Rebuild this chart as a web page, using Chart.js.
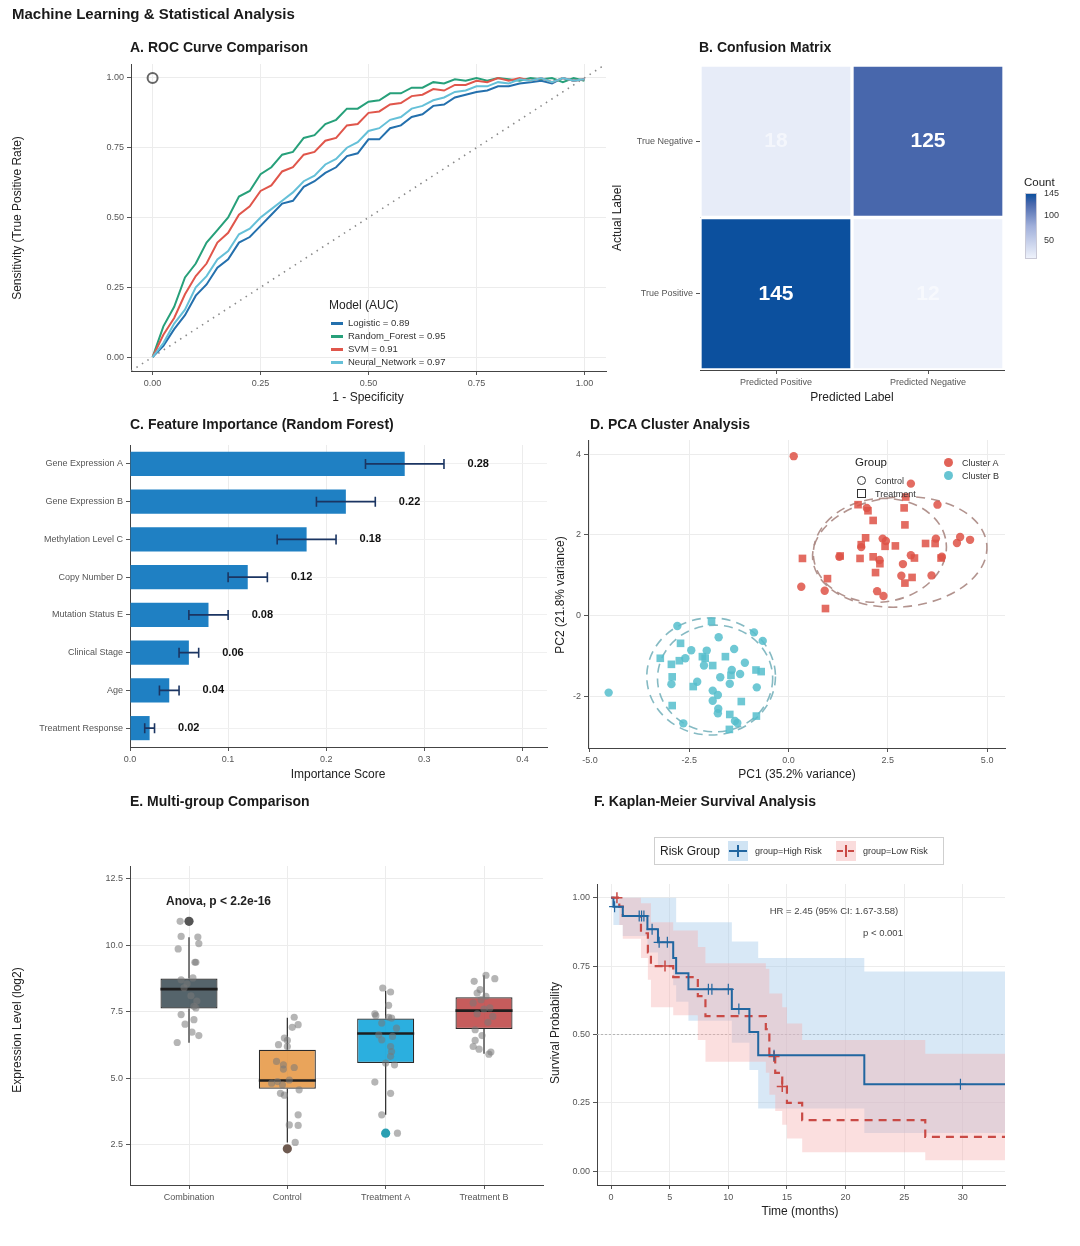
<!DOCTYPE html>
<html>
<head>
<meta charset="utf-8">
<script src="https://cdn.jsdelivr.net/npm/chart.js@4.4.1/dist/chart.umd.min.js"></script>
<style>
html, body { margin: 0; padding: 0; background: #fff; }
#page { position: relative; width: 1080px; height: 1246px; overflow: hidden; font-family: 'Liberation Sans', Arial, sans-serif; color: #222; }
#page canvas { position: absolute; left: 0; top: 0; }
.t { position: absolute; white-space: nowrap; line-height: 1; }
.ttl { font-weight: bold; font-size: 14px; transform: translateY(-50%); color: #1a1a1a; }
.ax { font-size: 12px; transform: translate(-50%, -50%); }
.rot { transform: translate(-50%, -50%) rotate(-90deg); }
.lg { font-size: 9px; color: #333; transform: translateY(-50%); }
.blk { position: absolute; }
</style>
</head>
<body>
<div id="page">
<canvas id="cA" width="1080" height="1246"></canvas>
<canvas id="cB" width="1080" height="1246"></canvas>
<canvas id="cC" width="1080" height="1246"></canvas>
<canvas id="cD" width="1080" height="1246"></canvas>
<canvas id="cE" width="1080" height="1246"></canvas>
<canvas id="cF" width="1080" height="1246"></canvas>

<div class="t ttl" style="left:12px;top:13px;font-size:15px">Machine Learning &amp; Statistical Analysis</div>
<div class="t ttl" style="left:130px;top:47px">A. ROC Curve Comparison</div>
<div class="t ttl" style="left:699px;top:47px">B. Confusion Matrix</div>
<div class="t ttl" style="left:130px;top:424px">C. Feature Importance (Random Forest)</div>
<div class="t ttl" style="left:590px;top:424px">D. PCA Cluster Analysis</div>
<div class="t ttl" style="left:130px;top:801px">E. Multi-group Comparison</div>
<div class="t ttl" style="left:594px;top:801px">F. Kaplan-Meier Survival Analysis</div>

<div class="t ax rot" style="left:17px;top:218px">Sensitivity (True Positive Rate)</div>
<div class="t ax" style="left:368px;top:397px">1 - Specificity</div>
<div class="t ax rot" style="left:617px;top:218px">Actual Label</div>
<div class="t ax" style="left:852px;top:397px">Predicted Label</div>
<div class="t ax" style="left:338px;top:774px">Importance Score</div>
<div class="t ax rot" style="left:560px;top:595px">PC2 (21.8% variance)</div>
<div class="t ax" style="left:797px;top:774px">PC1 (35.2% variance)</div>
<div class="t ax rot" style="left:17px;top:1030px">Expression Level (log2)</div>
<div class="t ax rot" style="left:555px;top:1033px">Survival Probability</div>
<div class="t ax" style="left:800px;top:1211px">Time (months)</div>

<!-- ROC legend -->
<div id="rocLegend"></div>

<!-- confusion colour bar -->
<div class="t" style="left:1024px;top:177px;font-size:11.5px">Count</div>
<div id="cbar" class="blk" style="left:1025px;top:193px;width:12px;height:66px;border:1px solid #c9c9d6;box-sizing:border-box"></div>
<div id="cbarTicks"></div>

<!-- PCA legend -->
<div class="t" style="left:855px;top:457px;font-size:11.5px">Group</div>
<div class="blk" style="left:857px;top:476px;width:7px;height:7px;border:1px solid #333;border-radius:50%"></div>
<div class="t lg" style="left:875px;top:481px">Control</div>
<div class="blk" style="left:857px;top:489px;width:7px;height:7px;border:1px solid #333"></div>
<div class="t lg" style="left:875px;top:494px">Treatment</div>
<div class="blk" style="left:944px;top:458px;width:9px;height:9px;border-radius:50%;background:rgba(222,82,70,0.9)"></div>
<div class="t lg" style="left:962px;top:463px">Cluster A</div>
<div class="blk" style="left:944px;top:471px;width:9px;height:9px;border-radius:50%;background:rgba(86,190,205,0.9)"></div>
<div class="t lg" style="left:962px;top:476px">Cluster B</div>

<!-- Boxplot annotation -->
<div class="t" style="left:166px;top:895px;font-size:12px;font-weight:bold">Anova, p &lt; 2.2e-16</div>

<!-- KM annotations and legend -->
<div class="t" style="left:834px;top:911px;font-size:9.5px;color:#444;transform:translate(-50%,-50%)">HR = 2.45 (95% CI: 1.67-3.58)</div>
<div class="t" style="left:883px;top:933px;font-size:9.5px;color:#444;transform:translate(-50%,-50%)">p &lt; 0.001</div>
<div class="blk" style="left:654px;top:837px;width:290px;height:28px;border:1px solid #cfcfcf;box-sizing:border-box"></div>
<div class="t" style="left:660px;top:851px;font-size:12px;transform:translateY(-50%)">Risk Group</div>
<div class="blk" style="left:728px;top:841px;width:20px;height:20px;background:rgba(170,205,235,0.55)"></div>
<div class="blk" style="left:729px;top:850px;width:18px;height:2px;background:#2166a0"></div>
<div class="blk" style="left:737px;top:845px;width:1.5px;height:12px;background:#2166a0"></div>
<div class="t lg" style="left:755px;top:851px">group=High Risk</div>
<div class="blk" style="left:836px;top:841px;width:20px;height:20px;background:rgba(245,185,185,0.5)"></div>
<div class="blk" style="left:837px;top:850px;width:6px;height:2px;background:#c94a45"></div>
<div class="blk" style="left:848px;top:850px;width:6px;height:2px;background:#c94a45"></div>
<div class="blk" style="left:845px;top:845px;width:1.5px;height:12px;background:#c94a45"></div>
<div class="t lg" style="left:863px;top:851px">group=Low Risk</div>
</div>

<script>
const W = 1080, H = 1246;
const F = "'Liberation Sans', Arial, sans-serif";
Chart.defaults.font.family = F;
Chart.defaults.color = '#555';

// ---------- A. ROC data ----------
const fpr = [0, 0.025, 0.05, 0.075, 0.1, 0.125, 0.15, 0.175, 0.2, 0.225, 0.25, 0.275, 0.3, 0.325, 0.35, 0.375, 0.4, 0.425, 0.45, 0.475,
  0.5, 0.525, 0.55, 0.575, 0.6, 0.625, 0.65, 0.675, 0.7, 0.725, 0.75, 0.775, 0.8, 0.825, 0.85, 0.875, 0.9, 0.925, 0.95, 0.975, 1];
const tprLogistic = [0, .04, .10, .15, .22, .26, .32, .35, .41, .43, .47, .51, .55, .56, .61, .63, .66, .68, .72, .73,
  .78, .78, .82, .83, .86, .87, .90, .905, .93, .94, .95, .955, .97, .97, .98, .985, .99, .98, 1.0, .99, .995];
const tprRandomForest = [0, .11, .18, .285, .335, .41, .455, .50, .575, .595, .655, .68, .725, .735, .785, .795, .835, .85, .89, .89,
  .915, .92, .945, .945, .965, .965, .985, .98, .995, .99, 1.0, .99, 1.0, .995, .99, 1.0, .995, 1.0, .985, 1.0, .99];
const tprSVM = [0, .08, .14, .225, .29, .335, .41, .445, .51, .54, .595, .615, .665, .68, .725, .735, .775, .785, .83, .835,
  .875, .88, .905, .91, .935, .94, .96, .955, .975, .975, .99, .985, 1.0, .99, 1.0, .99, 1.0, .985, 1.0, .99, .995];
const tprNeuralNet = [0, .05, .12, .17, .25, .29, .35, .38, .44, .46, .50, .53, .56, .59, .63, .65, .69, .71, .75, .77,
  .81, .82, .85, .86, .89, .90, .92, .93, .95, .955, .97, .97, .985, .98, .995, .99, 1.0, .985, 1.0, .99, .995];
const modelNames = ['Logistic', 'Random_Forest', 'SVM', 'Neural_Network'];
const modelAUC = [0.89, 0.95, 0.91, 0.97];
const modelTpr = [tprLogistic, tprRandomForest, tprSVM, tprNeuralNet];
const modelColors = ['#2470ad', '#27a07a', '#e0564b', '#65c0d8'];

// ---------- B. Confusion matrix ----------
const cmRows = ['True Positive', 'True Negative'];
const cmCols = ['Predicted Positive', 'Predicted Negative'];
const cmCounts = [[145, 12], [18, 125]];
const cmTicks = [145, 100, 50];

// ---------- C. Feature importance ----------
const features = ['Gene Expression A', 'Gene Expression B', 'Methylation Level C', 'Copy Number D',
  'Mutation Status E', 'Clinical Stage', 'Age', 'Treatment Response'];
const importance = [0.28, 0.22, 0.18, 0.12, 0.08, 0.06, 0.04, 0.02];
const importanceLo = [0.24, 0.19, 0.15, 0.10, 0.06, 0.05, 0.03, 0.015];
const importanceHi = [0.32, 0.25, 0.21, 0.14, 0.10, 0.07, 0.05, 0.025];

// ---------- D. PCA ----------
const pcaAControl = [[0.13, 3.95], [3.08, 3.27], [3.75, 2.75], [1.97, 2.67], [1.83, 1.70], [2.37, 1.91], [2.45, 1.85], [3.71, 1.91],
  [4.32, 1.95], [4.24, 1.80], [4.57, 1.88], [1.28, 1.46], [2.29, 1.38], [3.08, 1.50], [3.86, 1.46], [2.88, 1.28], [2.84, 0.99],
  [3.60, 1.00], [0.32, 0.72], [0.91, 0.62], [2.23, 0.61], [2.39, 0.49]];
const pcaATreatment = [[2.95, 2.94], [1.75, 2.75], [2.00, 2.60], [2.91, 2.67], [2.13, 2.36], [2.93, 2.25], [1.94, 1.93], [1.83, 1.76],
  [2.43, 1.72], [2.69, 1.73], [3.45, 1.79], [3.69, 1.79], [0.35, 1.42], [1.30, 1.48], [1.80, 1.42], [2.13, 1.46], [2.30, 1.29],
  [3.17, 1.43], [3.84, 1.43], [2.19, 1.07], [3.11, 0.95], [2.93, 0.81], [0.98, 0.92], [0.93, 0.18]];
const pcaBControl = [[-4.53, -1.90], [-2.80, -0.25], [-1.76, -0.53], [-0.87, -0.41], [-0.65, -0.62], [-2.45, -0.85], [-2.06, -0.86],
  [-1.37, -0.82], [-2.60, -1.05], [-2.13, -1.23], [-1.10, -1.16], [-1.43, -1.34], [-1.22, -1.44], [-1.72, -1.52], [-2.95, -1.69],
  [-2.30, -1.63], [-1.48, -1.68], [-0.80, -1.77], [-1.91, -1.85], [-1.78, -1.96], [-1.91, -2.10], [-1.77, -2.30], [-1.78, -2.41],
  [-1.29, -2.65], [-2.65, -2.66], [-1.35, -2.60]];
const pcaBTreatment = [[-1.94, -0.14], [-2.72, -0.68], [-3.23, -1.05], [-2.75, -1.11], [-2.17, -1.01], [-1.59, -1.01], [-2.95, -1.20],
  [-1.91, -1.23], [-1.45, -1.47], [-0.82, -1.34], [-0.69, -1.38], [-2.93, -1.51], [-2.40, -1.75], [-1.19, -2.12], [-2.93, -2.22],
  [-1.48, -2.44], [-0.81, -2.48], [-1.49, -2.81], [-2.10, -1.05]];
const ellipseCx = [2.80, 2.30, -1.95, -1.85];
const ellipseCy = [1.58, 1.62, -1.50, -1.55];
const ellipseRx = [2.20, 1.68, 1.62, 1.45];
const ellipseRy = [1.36, 1.28, 1.45, 1.32];
const ellipseTilt = [-0.08, -0.12, 0, 0];
const ellipseColor = ['rgba(170,135,130,0.9)', 'rgba(170,135,130,0.9)', 'rgba(120,178,188,0.9)', 'rgba(120,178,188,0.9)'];

// ---------- E. Boxplot ----------
const groups = ['Combination', 'Control', 'Treatment A', 'Treatment B'];
const boxQ1 = [7.62, 4.60, 5.57, 6.85];
const boxMedian = [8.35, 4.91, 6.68, 7.54];
const boxQ3 = [8.75, 6.07, 7.24, 8.04];
const whiskerLo = [6.33, 2.58, 3.62, 5.92];
const whiskerHi = [10.30, 7.27, 8.29, 8.87];
const boxFill = ['rgba(62,79,86,0.88)', 'rgba(229,148,62,0.85)', 'rgba(20,166,220,0.9)', 'rgba(190,70,70,0.88)'];
const outlierGroup = [0, 1, 2];
const outlierY = [10.9, 2.34, 2.93];
const outlierColor = ['#555555', '#6e5a50', '#2a9fb2'];
const combDx = [-0.09, -0.08, 0.09, 0.10, -0.11, 0.06, 0.07, 0.04, -0.08, 0.07, -0.08, 0.05, -0.04, 0.03, 0.10, -0.12, 0.02, -0.05, 0.08, -0.02, 0.05];
const combY = [10.9, 10.33, 10.31, 10.06, 9.86, 9.36, 9.36, 8.77, 8.70, 7.64, 7.39, 7.20, 7.03, 6.73, 6.60, 6.34, 8.10, 8.40, 7.90, 8.55, 7.70];
const ctrlDx = [0.07, 0.11, 0.05, -0.03, 0.00, -0.09, 0.00, -0.11, -0.04, 0.07, -0.04, -0.10, 0.02, -0.16, -0.05, 0.12, -0.07, -0.03, 0.11, 0.02, 0.11, 0.08];
const ctrlY = [7.29, 7.01, 6.91, 6.51, 6.42, 6.26, 6.19, 5.63, 5.50, 5.40, 5.34, 4.87, 4.93, 4.81, 4.75, 4.56, 4.43, 4.36, 3.62, 3.24, 3.22, 2.58];
const trtADx = [-0.03, 0.05, 0.03, -0.11, -0.10, 0.03, 0.06, -0.04, 0.11, -0.07, 0.07, -0.04, 0.05, 0.06, 0.05, 0.00, 0.09, -0.11, 0.05, -0.04, 0.12];
const trtAY = [8.39, 8.24, 7.74, 7.42, 7.35, 7.29, 7.26, 7.07, 6.88, 6.63, 6.57, 6.44, 6.19, 6.00, 5.82, 5.57, 5.50, 4.85, 4.43, 3.62, 2.93];
const trtBDx = [0.02, 0.11, -0.10, -0.04, -0.07, 0.02, -0.11, 0.06, -0.07, 0.09, -0.09, -0.02, -0.09, -0.11, -0.05, 0.07, 0.05, 0.00, 0.04, -0.03];
const trtBY = [8.87, 8.74, 8.64, 8.33, 8.20, 8.08, 7.83, 7.64, 7.42, 7.32, 6.82, 6.60, 6.42, 6.19, 6.09, 5.98, 5.90, 7.60, 7.10, 7.95];

// ---------- F. Kaplan-Meier ----------
const highT = [0, 0.2, 1.0, 3.1, 4.0, 5.3, 5.55, 6.6, 10.3, 11.8, 12.55, 21.6, 33.6];
const highS = [1, 0.967, 0.933, 0.885, 0.837, 0.78, 0.724, 0.665, 0.593, 0.509, 0.424, 0.318, 0.318];
const highCensT = [0.3, 2.4, 2.6, 2.8, 3.5, 4.1, 4.8, 8.3, 8.6, 10.0, 10.9, 13.9, 29.8];
const highCensS = [0.967, 0.933, 0.933, 0.933, 0.885, 0.837, 0.837, 0.665, 0.665, 0.665, 0.593, 0.424, 0.318];
const highUpT = [0, 5.55, 10.3, 12.55, 21.6, 33.6];
const highUpS = [1, 0.91, 0.84, 0.78, 0.73, 0.73];
const highLoT = [0, 0.2, 1.0, 3.1, 4.0, 5.3, 5.55, 6.6, 10.3, 11.8, 12.55, 21.6, 33.6];
const highLoS = [1, 0.90, 0.86, 0.80, 0.75, 0.68, 0.62, 0.55, 0.47, 0.37, 0.23, 0.14, 0.14];
const lowT = [0, 0.7, 1.0, 2.55, 3.14, 3.4, 5.3, 7.4, 8.05, 13.2, 13.5, 14.0, 14.6, 15.0, 16.3, 26.8, 33.6];
const lowS = [1, 0.967, 0.933, 0.87, 0.80, 0.75, 0.71, 0.64, 0.567, 0.52, 0.42, 0.36, 0.31, 0.25, 0.187, 0.126, 0.126];
const lowCensT = [0.5, 4.6, 13.9, 14.6];
const lowCensS = [1.0, 0.75, 0.42, 0.31];
const lowUpT = [0, 2.55, 3.4, 5.3, 7.4, 8.05, 13.2, 13.5, 14.6, 15.0, 16.3, 26.8, 33.6];
const lowUpS = [1, 0.98, 0.91, 0.88, 0.82, 0.76, 0.74, 0.65, 0.60, 0.54, 0.48, 0.43, 0.43];
const lowLoT = [0, 0.7, 1.0, 2.55, 3.14, 3.4, 5.3, 7.4, 8.05, 13.2, 13.5, 14.0, 14.6, 15.0, 16.3, 26.8, 33.6];
const lowLoS = [1, 0.90, 0.85, 0.78, 0.70, 0.60, 0.57, 0.48, 0.40, 0.36, 0.28, 0.22, 0.17, 0.12, 0.07, 0.04, 0.04];

// ---------- helpers ----------
function pad(l, t, r, b, yW, xH) {
  return { left: l - yW, top: t, right: W - r, bottom: H - b - xH };
}
function common(padding) {
  return {
    responsive: false, animation: false,
    layout: { padding },
    plugins: { legend: { display: false }, tooltip: { enabled: false } }
  };
}
function axis(pos, min, max, ticks, fmt, size) {
  return {
    type: 'linear', position: pos, min, max, offset: false,
    afterBuildTicks: s => { s.ticks = ticks.map(v => ({ value: v })); },
    afterFit: s => { if (pos === 'left') s.width = size; else s.height = size; },
    ticks: { callback: v => fmt(v), font: { size: 9 }, color: '#555', padding: 3, autoSkip: false, maxRotation: 0 },
    grid: { color: '#ececec', lineWidth: 1, tickColor: '#555', tickLength: 4, offset: false },
    border: { color: '#444', width: 1 }
  };
}
const xy = (xs, ys) => xs.map((x, i) => ({ x, y: ys[i] }));
const pairs = arr => arr.map(p => ({ x: p[0], y: p[1] }));

// ---------- A ----------
new Chart(document.getElementById('cA'), {
  type: 'line',
  data: {
    datasets: [
      { data: [{ x: -0.05, y: -0.05 }, { x: 1.05, y: 1.05 }], borderColor: '#8a8a8a', borderWidth: 1.6, borderDash: [1.5, 5], pointRadius: 0, order: 9 },
      ...modelNames.map((m, i) => ({
        data: xy(fpr, modelTpr[i]), borderColor: modelColors[i], borderWidth: 2, pointRadius: 0, tension: 0, order: 4 - i
      })),
      { data: [{ x: 0, y: 1 }], showLine: false, pointRadius: 5, pointBorderWidth: 2, pointBorderColor: '#666', pointBackgroundColor: 'rgba(0,0,0,0)', order: 0 }
    ]
  },
  options: Object.assign(common(pad(131, 64, 606, 371, 51, 25)), {
    scales: {
      x: axis('bottom', -0.05, 1.05, [0, 0.25, 0.5, 0.75, 1], v => v.toFixed(2), 25),
      y: axis('left', -0.05, 1.05, [0, 0.25, 0.5, 0.75, 1], v => v.toFixed(2), 51)
    }
  })
});
(function () {
  const box = document.getElementById('rocLegend');
  let html = '<div class="t" style="left:329px;top:299px;font-size:12px">Model (AUC)</div>';
  modelNames.forEach((m, i) => {
    const y = 323 + i * 13;
    html += `<div class="blk" style="left:331px;top:${y - 1}px;width:12px;height:2.5px;background:${modelColors[i]}"></div>`;
    html += `<div class="t lg" style="left:348px;top:${y}px;font-size:9.5px">${m} = ${modelAUC[i].toFixed(2)}</div>`;
  });
  box.innerHTML = html;
})();

// ---------- B ----------
const cmFlat = cmCounts.flat();
const cmMin = Math.min(...cmFlat), cmMax = Math.max(...cmFlat);
const cmStops = [[0, [238, 242, 251]], [0.5, [160, 175, 218]], [0.85, [72, 103, 172]], [1, [12, 80, 158]]];
function cmColor(v) {
  const t = (v - cmMin) / (cmMax - cmMin);
  for (let i = 1; i < cmStops.length; i++) {
    if (t <= cmStops[i][0]) {
      const [t0, c0] = cmStops[i - 1], [t1, c1] = cmStops[i];
      const f = (t - t0) / (t1 - t0);
      return `rgb(${c0.map((c, k) => Math.round(c + (c1[k] - c) * f)).join(',')})`;
    }
  }
  return `rgb(${cmStops[cmStops.length - 1][1].join(',')})`;
}
document.getElementById('cbar').style.background =
  'linear-gradient(to top,' + cmStops.map(s => `rgb(${s[1].join(',')}) ${s[0] * 100}%`).join(',') + ')';
document.getElementById('cbarTicks').innerHTML = cmTicks.map(v => {
  const y = 259 - (v - cmMin) / (cmMax - cmMin) * 66;
  return `<div class="t lg" style="left:1044px;top:${y}px">${v}</div>`;
}).join('');

const cmTextPlugin = {
  id: 'cmText',
  afterDatasetsDraw(chart) {
    const ctx = chart.ctx;
    ctx.save();
    ctx.font = 'bold 21px ' + F;
    ctx.textAlign = 'center'; ctx.textBaseline = 'middle';
    chart.data.datasets.forEach((ds, r) => {
      chart.getDatasetMeta(r).data.forEach((el, c) => {
        const v = cmCounts[r][c];
        ctx.fillStyle = v > 60 ? '#ffffff' : 'rgba(255,255,255,0.55)';
        ctx.fillText(String(v), el.x, (el.y + el.base) / 2);
      });
    });
    ctx.restore();
  }
};
new Chart(document.getElementById('cB'), {
  type: 'bar',
  data: {
    labels: cmCols,
    datasets: cmRows.map((row, r) => ({
      data: cmCols.map(() => [r, r + 1]),
      backgroundColor: cmCounts[r].map(cmColor),
      borderColor: '#ffffff', borderWidth: 2, borderSkipped: false,
      barPercentage: 1, categoryPercentage: 1, grouped: false
    }))
  },
  options: Object.assign(common(pad(700, 65, 1004, 370, 90, 25)), {
    scales: {
      x: {
        type: 'category', offset: true,
        afterFit: s => { s.height = 25; },
        ticks: { font: { size: 9 }, color: '#555', padding: 3 },
        grid: { display: true, drawOnChartArea: false, offset: false, tickColor: '#555', tickLength: 4 },
        border: { color: '#444' }
      },
      y: {
        type: 'linear', min: 0, max: 2,
        afterBuildTicks: s => { s.ticks = [0.5, 1.5].map(v => ({ value: v })); },
        afterFit: s => { s.width = 90; },
        ticks: { callback: v => cmRows[Math.floor(v)], font: { size: 9 }, color: '#555', padding: 3 },
        grid: { display: true, drawOnChartArea: false, tickColor: '#555', tickLength: 4 },
        border: { color: '#444' }
      }
    }
  }),
  plugins: [cmTextPlugin]
});

// ---------- C ----------
const errorBarPlugin = {
  id: 'errBars',
  afterDatasetsDraw(chart) {
    const { ctx, scales: { x, y } } = chart;
    ctx.save();
    features.forEach((f, i) => {
      const yy = y.getPixelForValue(i);
      const x0 = x.getPixelForValue(importanceLo[i]), x1 = x.getPixelForValue(importanceHi[i]);
      ctx.strokeStyle = '#1b3562'; ctx.lineWidth = 1.6;
      ctx.beginPath();
      ctx.moveTo(x0, yy); ctx.lineTo(x1, yy);
      ctx.moveTo(x0, yy - 5); ctx.lineTo(x0, yy + 5);
      ctx.moveTo(x1, yy - 5); ctx.lineTo(x1, yy + 5);
      ctx.stroke();
      ctx.fillStyle = '#111'; ctx.font = 'bold 11px ' + F; ctx.textBaseline = 'middle'; ctx.textAlign = 'left';
      ctx.fillText(importance[i].toFixed(2), x.getPixelForValue(importanceHi[i] + 0.024), yy);
    });
    ctx.restore();
  }
};
new Chart(document.getElementById('cC'), {
  type: 'bar',
  data: {
    labels: features,
    datasets: [{ data: importance, backgroundColor: '#1f80c3', barPercentage: 0.64, categoryPercentage: 1 }]
  },
  options: Object.assign(common(pad(130, 445, 547, 747, 122, 25)), {
    indexAxis: 'y',
    scales: {
      x: axis('bottom', 0, 0.425, [0, 0.1, 0.2, 0.3, 0.4], v => v.toFixed(1), 25),
      y: {
        type: 'category', position: 'left', offset: true,
        afterFit: s => { s.width = 122; },
        ticks: { font: { size: 9 }, color: '#555', padding: 3, autoSkip: false },
        grid: { color: '#f0f0f0', offset: false, tickColor: '#555', tickLength: 4 },
        border: { color: '#444' }
      }
    }
  }),
  plugins: [errorBarPlugin]
});

// ---------- D ----------
const ellipsePlugin = {
  id: 'ellipses',
  beforeDatasetsDraw(chart) {
    const { ctx, scales: { x, y } } = chart;
    ctx.save();
    ctx.lineWidth = 1.6;
    ctx.setLineDash([9, 6]);
    ellipseCx.forEach((cx, i) => {
      const px = x.getPixelForValue(cx), py = y.getPixelForValue(ellipseCy[i]);
      const rx = Math.abs(x.getPixelForValue(cx + ellipseRx[i]) - px);
      const ry = Math.abs(y.getPixelForValue(ellipseCy[i] + ellipseRy[i]) - py);
      ctx.strokeStyle = ellipseColor[i];
      ctx.beginPath();
      ctx.ellipse(px, py, rx, ry, ellipseTilt[i], 0, Math.PI * 2);
      ctx.stroke();
    });
    ctx.restore();
  }
};
const redPt = 'rgba(222,82,70,0.85)', tealPt = 'rgba(86,190,205,0.85)';
new Chart(document.getElementById('cD'), {
  type: 'scatter',
  data: {
    datasets: [
      { data: pairs(pcaAControl), pointStyle: 'circle', pointRadius: 4.2, backgroundColor: redPt, borderWidth: 0 },
      { data: pairs(pcaATreatment), pointStyle: 'rect', pointRadius: 5.4, backgroundColor: redPt, borderWidth: 0 },
      { data: pairs(pcaBControl), pointStyle: 'circle', pointRadius: 4.2, backgroundColor: tealPt, borderWidth: 0 },
      { data: pairs(pcaBTreatment), pointStyle: 'rect', pointRadius: 5.4, backgroundColor: tealPt, borderWidth: 0 }
    ]
  },
  options: Object.assign(common(pad(588, 440, 1005, 748, 40, 25)), {
    scales: {
      x: axis('bottom', -5.05, 5.45, [-5, -2.5, 0, 2.5, 5], v => v.toFixed(1), 25),
      y: axis('left', -3.27, 4.35, [-2, 0, 2, 4], v => String(v), 40)
    }
  }),
  plugins: [ellipsePlugin]
});

// ---------- E ----------
const boxPlugin = {
  id: 'boxParts',
  beforeDatasetsDraw(chart) {
    const { ctx, scales: { x, y } } = chart;
    ctx.save();
    ctx.strokeStyle = '#2a2a2a'; ctx.lineWidth = 1.2;
    groups.forEach((g, i) => {
      const px = x.getPixelForValue(i);
      ctx.beginPath();
      ctx.moveTo(px, y.getPixelForValue(whiskerLo[i])); ctx.lineTo(px, y.getPixelForValue(boxQ1[i]));
      ctx.moveTo(px, y.getPixelForValue(boxQ3[i])); ctx.lineTo(px, y.getPixelForValue(whiskerHi[i]));
      ctx.stroke();
    });
    ctx.restore();
  },
  afterDatasetDraw(chart, args) {
    if (args.index !== 0) return;
    const { ctx, scales: { y } } = chart;
    ctx.save();
    ctx.strokeStyle = '#1e1e1e'; ctx.lineWidth = 2.6;
    chart.getDatasetMeta(0).data.forEach((el, i) => {
      const py = y.getPixelForValue(boxMedian[i]);
      ctx.beginPath();
      ctx.moveTo(el.x - el.width / 2, py); ctx.lineTo(el.x + el.width / 2, py);
      ctx.stroke();
    });
    ctx.restore();
  }
};
const jitter = [[combDx, combY], [ctrlDx, ctrlY], [trtADx, trtAY], [trtBDx, trtBY]]
  .flatMap(([dx, ys], g) => ys.map((v, k) => ({ x: g + dx[k], y: v })));
new Chart(document.getElementById('cE'), {
  type: 'bar',
  data: {
    datasets: [
      {
        type: 'bar', data: groups.map((g, i) => ({ x: i, y: [boxQ1[i], boxQ3[i]] })),
        backgroundColor: boxFill, borderColor: '#2a2a2a', borderWidth: 1.2, borderSkipped: false,
        barPercentage: 0.58, categoryPercentage: 1, order: 2
      },
      { type: 'scatter', data: jitter, pointRadius: 3.6, backgroundColor: 'rgba(120,120,120,0.55)', borderWidth: 0, order: 1 },
      {
        type: 'scatter', data: outlierGroup.map((g, i) => ({ x: g, y: outlierY[i] })),
        pointRadius: 4.6, backgroundColor: outlierColor, borderWidth: 0, order: 0
      }
    ]
  },
  options: Object.assign(common(pad(130, 866, 543, 1185, 50, 25)), {
    scales: {
      x: axis('bottom', -0.6, 3.6, [0, 1, 2, 3], v => groups[v], 25),
      y: axis('left', 0.98, 12.98, [2.5, 5, 7.5, 10, 12.5], v => v.toFixed(1), 50)
    }
  }),
  plugins: [boxPlugin]
});

// ---------- F ----------
const blue = '#2166a0', red = '#c94a45';
const step = 'before'; // hold the previous survival value until the next event time
new Chart(document.getElementById('cF'), {
  type: 'line',
  data: {
    datasets: [
      { data: [{ x: -1.2, y: 0.5 }, { x: 33.6, y: 0.5 }], borderColor: '#b5b5b5', borderWidth: 1, borderDash: [2, 2], pointRadius: 0, order: 10 },
      { data: xy(highUpT, highUpS), stepped: step, borderWidth: 0, pointRadius: 0, fill: '+1', backgroundColor: 'rgba(168,204,236,0.45)', order: 9 },
      { data: xy(highLoT, highLoS), stepped: step, borderWidth: 0, pointRadius: 0, fill: false, order: 9 },
      { data: xy(lowUpT, lowUpS), stepped: step, borderWidth: 0, pointRadius: 0, fill: '+1', backgroundColor: 'rgba(245,175,175,0.40)', order: 8 },
      { data: xy(lowLoT, lowLoS), stepped: step, borderWidth: 0, pointRadius: 0, fill: false, order: 8 },
      { data: xy(lowT, lowS), stepped: step, borderColor: red, borderWidth: 2.2, borderDash: [8, 6], pointRadius: 0, order: 3 },
      { data: xy(highT, highS), stepped: step, borderColor: blue, borderWidth: 2, pointRadius: 0, order: 2 },
      { data: xy(lowCensT, lowCensS), showLine: false, pointStyle: 'cross', pointRadius: 5.5, pointBorderColor: red, pointBorderWidth: 1.5, order: 1 },
      { data: xy(highCensT, highCensS), showLine: false, pointStyle: 'cross', pointRadius: 5.5, pointBorderColor: blue, pointBorderWidth: 1.2, order: 0 }
    ]
  },
  options: Object.assign(common(pad(597, 884, 1005, 1185, 50, 25)), {
    scales: {
      x: axis('bottom', -1.2, 33.6, [0, 5, 10, 15, 20, 25, 30], v => String(v), 25),
      y: axis('left', -0.05, 1.05, [0, 0.25, 0.5, 0.75, 1], v => v.toFixed(2), 50)
    }
  })
});
</script>
</body>
</html>
